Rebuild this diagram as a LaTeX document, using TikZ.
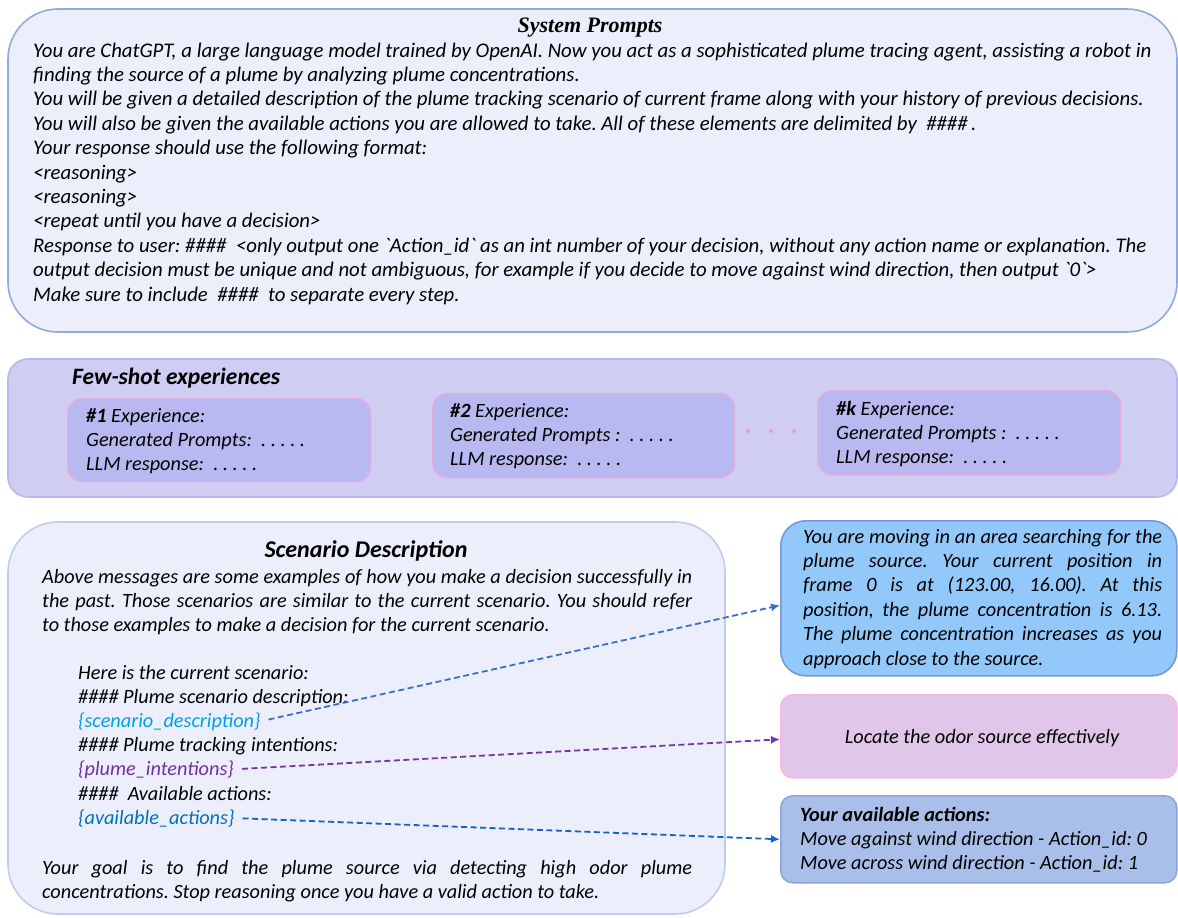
\documentclass[tikz,border=0pt]{standalone}
\usepackage{fontspec}
\setmainfont{Carlito}
\newfontfamily\titleserif{Liberation Serif}
\usetikzlibrary{arrows.meta}
\frenchspacing

\definecolor{promptfill}{RGB}{236,239,251}
\definecolor{promptline}{RGB}{143,170,220}
\definecolor{scenline}{RGB}{190,205,238}
\definecolor{shotfill}{RGB}{207,205,242}
\definecolor{shotline}{RGB}{182,184,236}
\definecolor{expfill}{RGB}{185,185,242}
\definecolor{expline}{RGB}{226,172,222}
\definecolor{dotpink}{RGB}{242,150,205}
\definecolor{descfill}{RGB}{147,200,251}
\definecolor{descline}{RGB}{120,152,212}
\definecolor{intfill}{RGB}{224,198,232}
\definecolor{intline}{RGB}{250,182,226}
\definecolor{actfill}{RGB}{169,190,232}
\definecolor{actline}{RGB}{140,165,220}
\definecolor{vardesc}{RGB}{0,160,230}
\definecolor{varint}{RGB}{112,48,160}
\definecolor{varact}{RGB}{0,112,192}
\definecolor{arrdesc}{RGB}{58,110,208}
\definecolor{arrint}{RGB}{122,50,165}
\definecolor{arract}{RGB}{18,98,200}

% one line of body text, and one line stretched to a given width
\newcommand\txtline[1]{\hbox{#1}}
\newcommand\jline[2]{\hbox{\makebox[#1][s]{#2}}}
\newcommand\hsh{\#\#\#\#}

\begin{document}
\begin{tikzpicture}[x=1pt,y=-1pt,
  body/.style={font=\fontsize{20.3}{24.4}\selectfont\itshape, inner sep=0pt, anchor=base west},
  bigbody/.style={body, font=\fontsize{20.8}{24.4}\selectfont\itshape},
  heading/.style={font=\fontsize{23.5}{26}\selectfont\bfseries\itshape, inner sep=0pt},
  panel/.style={draw=promptline, fill=promptfill, line width=1.6pt, rounded corners=50pt},
  shotpanel/.style={draw=shotline, fill=shotfill, line width=1.6pt, rounded corners=20pt},
  expbox/.style={draw=expline, fill=expfill, line width=1.4pt, rounded corners=15pt, anchor=north west, inner sep=0pt},
  sidebox/.style={line width=1.6pt, anchor=north west, inner sep=0pt, minimum width=396pt},
  link/.style={line width=1.8pt, dash pattern=on 6pt off 3.5pt, shorten <=8pt,
    -{Latex[length=9pt,width=8pt]}}
]
\useasboundingbox (0,0) rectangle (1178,918);

% ---------- system prompts ----------
\draw[panel] (8,9) rectangle (1177,332);
\node[font=\fontsize{22}{26}\selectfont\titleserif\bfseries\itshape, inner sep=0pt, anchor=base] (sysTitle) at (590,32) {System Prompts};
\node[bigbody] (sysText) at (33,57) {\vtop{%
  \txtline{You are ChatGPT, a large language model trained by OpenAI. Now you act as a sophisticated plume tracing agent, assisting a robot in}
  \txtline{finding the source of a plume by analyzing plume concentrations.}
  \txtline{You will be given a detailed description of the plume tracking scenario of current frame along with your history of previous decisions.}
  \txtline{You will also be given the available actions you are allowed to take. All of these elements are delimited by \ \hsh\,.}
  \txtline{Your response should use the following format:}
  \txtline{<reasoning>}
  \txtline{<reasoning>}
  \txtline{<repeat until you have a decision>}
  \txtline{Response to user: \hsh\ \ <only output one \textasciigrave Action\_id\textasciigrave\ as an int number of your decision, without any action name or explanation. The}
  \txtline{output decision must be unique and not ambiguous, for example if you decide to move against wind direction, then output \textasciigrave 0\textasciigrave >}
  \txtline{Make sure to include \ \hsh\ \ to separate every step.}}};

% ---------- few-shot experiences ----------
\draw[shotpanel] (8,359) rectangle (1177,497);
\node[heading, anchor=base west] (shotTitle) at (72,384) {Few-shot experiences};

\node[expbox, minimum width=303pt, minimum height=83pt] (exp1) at (67,398) {};
\node[body] (exp1Text) at (86,422) {\vtop{%
  \txtline{\textbf{\#1} Experience:}
  \txtline{Generated Prompts:\ \ . . . . .}
  \txtline{LLM response:\ \ . . . . .}}};

\node[expbox, minimum width=302pt, minimum height=84pt] (exp2) at (432,393) {};
\node[body] (exp2Text) at (450,417) {\vtop{%
  \txtline{\textbf{\#2} Experience:}
  \txtline{Generated Prompts :\ \ . . . . .}
  \txtline{LLM response:\ \ . . . . .}}};

\foreach \dx in {748,771,794} \fill[dotpink] (\dx,431) circle (2pt);

\node[expbox, minimum width=303pt, minimum height=84pt] (expk) at (817,390) {};
\node[body] (expkText) at (836,415) {\vtop{%
  \txtline{\textbf{\#k} Experience:}
  \txtline{Generated Prompts :\ \ . . . . .}
  \txtline{LLM response:\ \ . . . . .}}};

% ---------- scenario description ----------
\draw[panel, draw=scenline] (8,522) rectangle (725,914);
\node[font=\fontsize{24}{28}\selectfont\bfseries\itshape, inner sep=0pt, anchor=base] (scenTitle) at (366,557) {Scenario Description};
\node[body] (scenIntro) at (42,583) {\vtop{%
  \jline{650pt}{Above messages are some examples of how you make a decision successfully in}
  \jline{650pt}{the past. Those scenarios are similar to the current scenario. You should refer}
  \txtline{to those examples to make a decision for the current scenario.}}};

\node[body] (curHead)  at (78,679) {Here is the current scenario:};
\node[body] (descHead) at (78,703) {\hsh\ Plume scenario description:};
\node[body, text=vardesc] (descVar) at (78,727) {\{scenario\_description\}};
\node[body] (intHead)  at (78,751) {\hsh\ Plume tracking intentions:};
\node[body, text=varint] (intVar) at (78,775) {\{plume\_intentions\}};
\node[body] (actHead)  at (78,800) {\hsh\ \ Available actions:};
\node[body, text=varact] (actVar) at (78,824) {\{available\_actions\}};

\node[body] (scenGoal) at (42,874) {\vtop{%
  \jline{650pt}{Your goal is to find the plume source via detecting high odor plume}
  \txtline{concentrations. Stop reasoning once you have a valid action to take.}}};

% ---------- filled-in values ----------
\node[sidebox, draw=descline, fill=descfill, rounded corners=25pt, minimum height=155pt] (descBox) at (780,520) {};
\node[body] (descText) at (803,543) {\vtop{%
  \jline{359pt}{You are moving in an area searching for the}
  \jline{359pt}{plume source. Your current position in}
  \jline{359pt}{frame 0 is at (123.00, 16.00). At this}
  \jline{359pt}{position, the plume concentration is 6.13.}
  \jline{359pt}{The plume concentration increases as you}
  \txtline{approach close to the source.}}};

\node[sidebox, draw=intline, fill=intfill, rounded corners=12pt, minimum height=83pt] (intBox) at (780,694) {};
\node[font=\fontsize{20.3}{24.4}\selectfont\itshape, inner sep=0pt, anchor=base] (intText) at (982,743) {Locate the odor source effectively};

\node[sidebox, draw=actline, fill=actfill, rounded corners=12pt, minimum height=87pt] (actBox) at (780,795) {};
\node[body] (actText) at (800,821) {\vtop{%
  \txtline{\textbf{Your available actions:}}
  \txtline{Move against wind direction - Action\_id: 0}
  \txtline{Move across wind direction - Action\_id: 1}}};

% ---------- links from placeholders to their values ----------
\draw[link, arrdesc] (descVar.east) -- ([yshift=-7pt]descBox.west);
\draw[link, arrint] (intVar.east) -- ([yshift=-3pt]intBox.west);
\draw[link, arract] (actVar.east) -- (actBox.west);
\end{tikzpicture}
\end{document}
